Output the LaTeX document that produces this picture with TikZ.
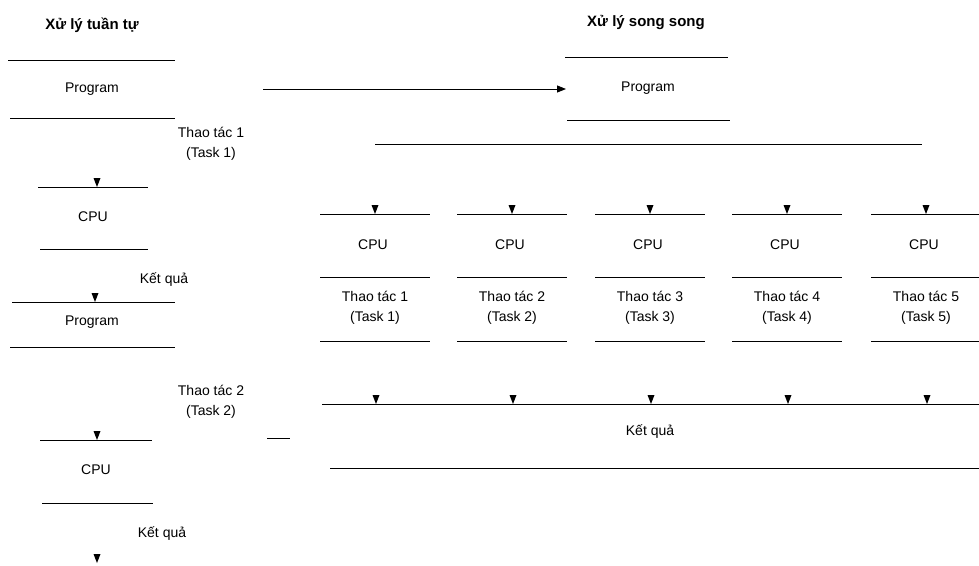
\documentclass[tikz,border=0pt]{standalone}
\usepackage{fontspec}
\setmainfont{Liberation Sans}
\usetikzlibrary{arrows.meta}
\begin{document}
\begin{tikzpicture}[x=1pt,y=-1pt,
  lbl/.style={font=\fontsize{14}{20}\selectfont, inner sep=0pt, align=center},
  ttl/.style={font=\bfseries\fontsize{15}{17}\selectfont, inner sep=0pt},
  edge/.style={line width=0.9pt},
  conn/.style={line width=0.9pt,-{Triangle[length=9pt,width=7pt]}}]
\useasboundingbox (0,0) rectangle (979,565);
\newcommand\downtri[2]{\fill (#1-3.5,#2-9) -- (#1+3.5,#2-9) -- (#1,#2) -- cycle;}
% ---------- left: sequential ----------
\node[ttl] (t1) at (92,25) {Xử lý tuần tự};
\draw[edge] (8,60) -- (175,60);
\node[lbl] (prog1) at (92,89) {Program};
\draw[edge] (10,118) -- (175,118);
\node[lbl] (task1) at (211,144) {Thao tác 1\\(Task 1)};
\draw[edge] (38,187) -- (148,187);
\downtri{97}{187}
\node[lbl] (cpu1) at (93,217) {CPU};
\draw[edge] (40,249) -- (148,249);
\node[lbl] (res1) at (164,280) {Kết quả};
\draw[edge] (12,302) -- (175,302);
\downtri{95}{302}
\node[lbl] (prog2) at (92,322) {Program};
\draw[edge] (10,347) -- (175,347);
\node[lbl] (task2) at (211,402) {Thao tác 2\\(Task 2)};
\draw[edge] (40,440) -- (152,440);
\downtri{97}{440}
\node[lbl] (cpu2) at (96,470) {CPU};
\draw[edge] (42,503) -- (153,503);
\node[lbl] (res2) at (162,534) {Kết quả};
\downtri{97}{563}
\draw[edge] (267,438) -- (290,438);
% ---------- connector ----------
\coordinate (from) at (263,89);
\coordinate (to) at (566,89);
\draw[conn] (from) -- (to);
% ---------- right: parallel ----------
\node[ttl] (t2) at (646,22) {Xử lý song song};
\draw[edge] (565,57) -- (728,57);
\node[lbl] (progp) at (648,88) {Program};
\draw[edge] (567,120) -- (730,120);
\draw[edge] (375,144) -- (922,144);
\foreach \i/\xl in {1/320,2/457,3/595,4/732,5/871}{
  \pgfmathsetmacro\xr{min(\xl+110,979)}
  \pgfmathsetmacro\xc{\xl+55}
  \draw[edge] (\xl,214) -- (\xr,214);
  \downtri{\xc}{214}
  \node[lbl] (cpup\i) at (\xc-2,245) {CPU};
  \draw[edge] (\xl,277) -- (\xr,277);
  \node[lbl] (taskp\i) at (\xc,308) {Thao tác \i\\(Task \i)};
  \draw[edge] (\xl,341) -- (\xr,341);
  \downtri{\xc+1}{404}
}
\draw[edge] (322,404) -- (979,404);
\node[lbl] (resp) at (650,432) {Kết quả};
\draw[edge] (330,468) -- (979,468);
\end{tikzpicture}
\end{document}
